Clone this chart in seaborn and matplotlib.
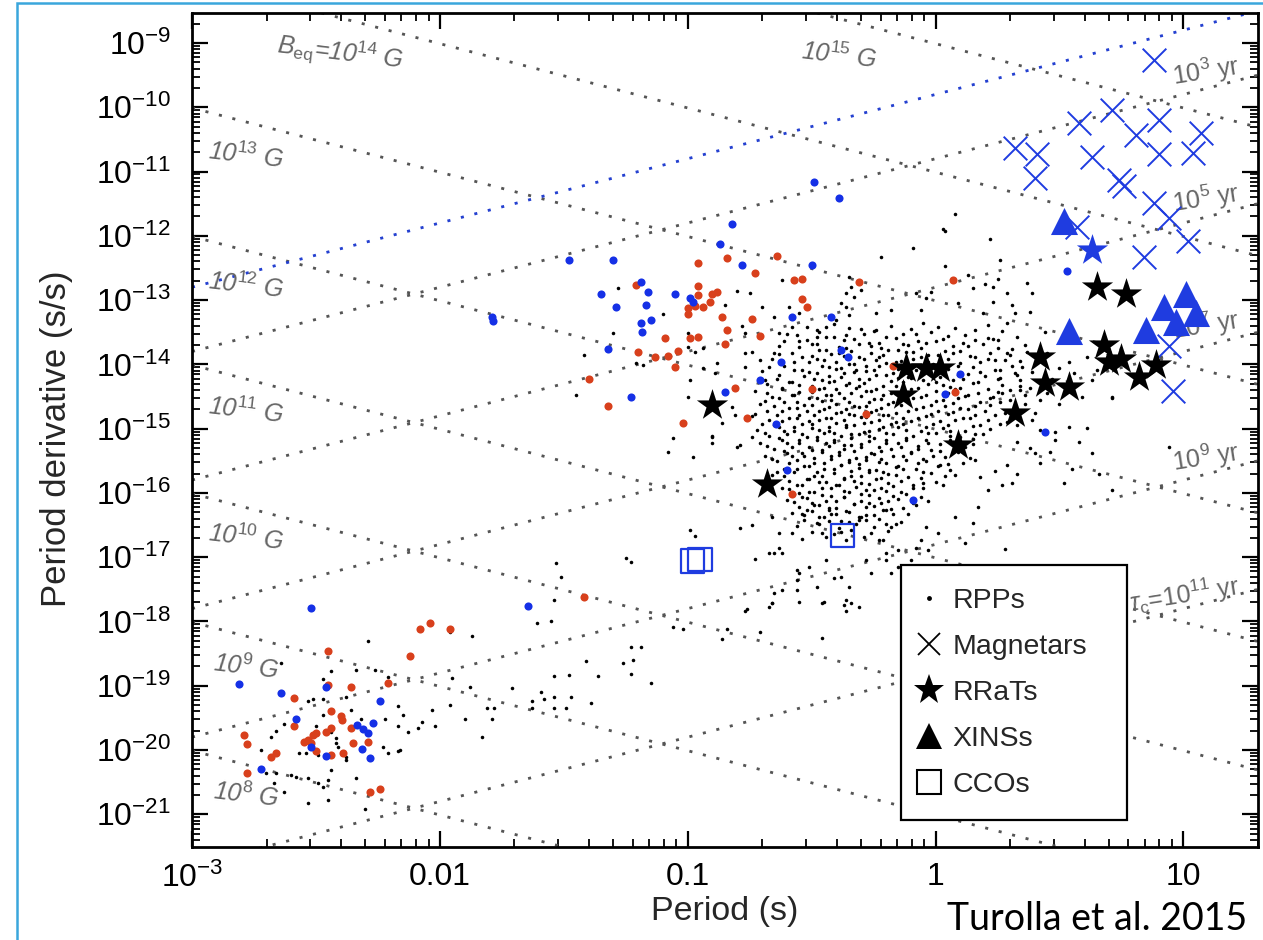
import numpy as np
import pandas as pd
import matplotlib
matplotlib.use("Agg")
import matplotlib.pyplot as plt
import seaborn as sns
from matplotlib.lines import Line2D
from matplotlib.patches import Rectangle
from matplotlib.ticker import FixedLocator, FixedFormatter, LogLocator, NullFormatter, LogFormatterMathtext

# ---------------- data (log10 P [s], log10 Pdot [s/s]) ----------------
magnetars = [(0.88, -9.26), (0.58, -10.25), (0.71, -10.04), (0.90, -10.20), (0.81, -10.43),
             (1.07, -10.40), (0.32, -10.63), (0.41, -10.73), (0.63, -10.77), (0.90, -10.73),
             (1.04, -10.71), (0.40, -11.10), (0.74, -11.13), (0.76, -11.23), (0.88, -11.49),
             (0.94, -11.72), (0.57, -11.86), (1.02, -12.08), (0.84, -12.33), (0.94, -13.72),
             (0.96, -14.42)]
xins = [(0.52, -11.77), (0.54, -13.48), (0.85, -13.47), (0.92, -13.11), (1.01, -12.91),
        (1.05, -13.20), (0.97, -13.34)]
rrats = [(-0.90, -14.63), (-0.68, -15.86), (-0.12, -14.06), (-0.04, -14.06), (0.02, -14.06),
         (-0.13, -14.48), (0.09, -15.26), (0.32, -14.76), (0.42, -13.89), (0.44, -14.29),
         (0.54, -14.35), (0.65, -12.80), (0.77, -12.91), (0.68, -13.70), (0.70, -13.96),
         (0.75, -13.92), (0.82, -14.20), (0.89, -14.01)]
rrat_highb = [(0.63, -12.22)]
ccos = [(-0.98, -17.06), (-0.95, -17.03), (-0.375, -16.66)]

red_psr = [(-0.64, -12.32), (-0.84, -12.35), (-0.96, -12.42), (-0.73, -12.58), (-0.57, -12.69),
           (-0.54, -12.67), (-1.21, -12.77), (-0.96, -12.78), (-0.96, -12.92), (-0.90, -12.91),
           (-0.88, -12.88), (-0.91, -13.03), (-1.00, -13.12), (-0.97, -13.09), (-0.94, -13.11),
           (-1.00, -13.22), (-0.86, -13.26), (-0.74, -13.30), (-0.54, -12.98), (-0.52, -13.11),
           (-0.84, -13.47), (-0.71, -13.56), (-1.09, -13.59), (-0.99, -13.59), (-0.96, -13.58),
           (-0.85, -13.68), (-1.04, -13.79), (-1.20, -13.81), (-1.13, -13.89), (-1.08, -13.87),
           (-1.05, -14.04), (-1.40, -14.23), (-0.81, -14.37), (-0.50, -14.39), (-1.32, -14.65),
           (-1.02, -14.91), (-0.76, -14.84), (-0.31, -12.72), (0.07, -12.69), (-0.17, -14.03),
           (0.08, -14.43), (-0.28, -14.77), (-0.58, -16.02), (-1.42, -17.62),
           (-2.45, -18.46), (-2.59, -19.19), (-2.45, -18.99), (-2.36, -19.02), (-2.21, -18.95),
           (-2.12, -18.53), (-2.08, -18.11), (-2.04, -18.03), (-1.96, -18.11), (-2.79, -19.77),
           (-2.78, -19.91), (-2.78, -20.35), (-2.68, -20.11), (-2.66, -20.05), (-2.59, -19.63),
           (-2.55, -19.88), (-2.53, -19.85), (-2.51, -19.77), (-2.50, -19.74), (-2.52, -19.89),
           (-2.50, -20.02), (-2.46, -19.72), (-2.44, -19.66), (-2.44, -19.40), (-2.40, -19.47),
           (-2.395, -19.54), (-2.36, -19.66), (-2.35, -19.89), (-2.39, -20.05), (-2.44, -20.07),
           (-2.29, -19.88), (-2.28, -20.66), (-2.24, -20.61)]
blue_psr = [(-0.49, -11.16), (-0.39, -11.41), (-0.82, -11.82), (-0.87, -12.13), (-1.48, -12.38),
            (-1.30, -12.38), (-0.78, -12.46), (-0.50, -12.46), (-1.19, -12.72), (-1.35, -12.91),
            (-1.16, -12.88), (-1.05, -12.91), (-0.99, -12.97), (-0.98, -13.03), (-1.29, -13.11),
            (-1.17, -13.08), (-1.15, -13.31), (-1.19, -13.36), (-1.185, -13.50), (-0.58, -13.26),
            (-0.42, -13.26), (-1.32, -13.76), (-0.38, -13.78), (-0.355, -13.89), (-0.625, -13.96),
            (-0.71, -14.25), (-0.85, -14.43), (-1.23, -14.51), (-0.645, -14.93), (-1.79, -13.26),
            (-1.785, -13.33), (0.10, -14.15), (0.04, -14.46), (0.44, -15.05), (-0.09, -16.11),
            (-0.60, -15.65), (0.53, -12.55), (-1.645, -17.76),
            (-2.52, -17.79), (-2.81, -18.98), (-2.64, -19.12), (-2.46, -19.02), (-2.58, -19.51),
            (-2.24, -19.24), (-2.335, -19.61), (-2.31, -19.68), (-2.29, -19.74), (-2.27, -19.58),
            (-2.52, -19.96), (-2.46, -20.10), (-2.315, -19.99), (-2.28, -20.13), (-2.72, -20.30)]

rpp_msp = [(-2.64, -18.65), (-2.44, -18.77), (-2.47, -18.90), (-2.29, -18.31), (-2.51, -19.21),
           (-2.22, -19.51), (-2.17, -19.63), (-2.13, -19.72), (-2.63, -19.60), (-2.66, -19.71),
           (-2.68, -19.80), (-2.57, -20.05), (-2.54, -20.05), (-2.49, -20.08), (-2.42, -19.89),
           (-2.41, -19.96), (-2.38, -20.11), (-2.38, -20.16), (-2.23, -19.96), (-2.17, -20.02),
           (-2.72, -20.00), (-2.70, -20.36), (-2.66, -20.35), (-2.60, -20.39), (-2.58, -20.42),
           (-2.53, -20.44), (-2.49, -20.52), (-2.47, -20.58), (-2.45, -20.47), (-2.44, -20.31),
           (-2.67, -20.52), (-2.63, -20.66), (-2.53, -20.83), (-2.45, -20.78), (-2.34, -20.44),
           (-2.30, -20.91), (-2.21, -20.05), (-2.50, -19.62), (-2.47, -19.46), (-2.44, -19.72),
           (-2.42, -19.81), (-2.32, -19.51), (-2.36, -19.38), (-2.53, -19.23), (-2.47, -19.20),
           (-2.38, -19.18), (-2.34, -18.76), (-2.26, -18.76), (-2.21, -18.87), (-2.17, -19.32),
           (-2.15, -19.46)]
rpp_bridge = [(-2.03, -19.38), (-2.02, -19.62), (-2.07, -19.57), (-2.09, -19.66), (-2.16, -20.00),
              (-1.96, -19.30), (-1.90, -19.51), (-1.83, -19.80), (-1.79, -19.51), (-1.81, -19.35),
              (-1.78, -19.35), (-1.71, -19.04), (-1.95, -18.88), (-1.88, -19.02), (-1.87, -18.23),
              (-1.96, -18.17), (-1.63, -19.23), (-1.63, -19.35), (-1.59, -19.10), (-1.58, -19.20),
              (-1.54, -19.18), (-1.54, -19.34), (-1.49, -19.34), (-1.47, -19.18), (-1.39, -19.27),
              (-1.54, -18.85), (-1.48, -18.84), (-1.61, -18.03), (-1.55, -18.00), (-1.41, -18.62),
              (-1.36, -18.85), (-1.26, -18.64), (-1.23, -18.81), (-1.22, -18.60), (-1.23, -18.40),
              (-1.19, -18.40), (-1.15, -18.95), (-0.76, -17.81), (-0.66, -17.72), (-0.71, -18.17),
              (-0.46, -18.26), (-1.06, -18.09), (-1.02, -18.11), (-0.86, -18.28), (-0.84, -18.11),
              (-0.99, -16.58), (-0.97, -16.67), (-1.25, -17.02), (-1.23, -17.08), (-1.53, -17.09),
              (-1.51, -17.31), (-1.54, -17.67), (-1.45, -14.48), (-1.06, -15.15), (-1.08, -15.37),
              (-0.98, -15.44), (-0.90, -15.12), (-0.90, -15.23), (-0.80, -15.29), (-0.79, -16.55),
              (-0.74, -16.50), (-0.73, -17.03), (-0.65, -16.94), (-0.63, -16.86), (-0.56, -17.20),
              (-0.56, -17.36), (-0.56, -17.51), (-0.77, -17.83), (-0.67, -17.78), (-0.65, -17.55),
              (-0.45, -17.70), (-0.37, -17.75), (-0.41, -17.33), (-1.00, -14.51), (-0.89, -14.14),
              (-0.88, -13.98)]
rpp_upper = [(-1.28, -12.81), (-1.30, -13.51), (-1.42, -13.86), (-1.21, -13.98), (-1.18, -14.01),
             (-1.10, -13.22), (-1.07, -13.87), (-1.00, -13.51), (-1.00, -13.73), (-0.97, -13.81),
             (-0.94, -13.75), (-0.94, -14.06), (-0.99, -14.25), (-0.85, -13.08), (-0.80, -12.86),
             (-0.78, -13.40), (-0.75, -12.89), (-0.70, -13.11), (-0.65, -13.26), (-0.62, -12.69),
             (-0.59, -13.11), (-0.55, -13.20), (-0.77, -13.51), (-0.77, -13.83), (-0.74, -13.81),
             (-0.77, -14.04), (-0.71, -13.93), (-0.65, -13.82), (-0.63, -13.51), (-0.58, -13.42),
             (-0.52, -13.62), (-0.48, -13.58), (-0.44, -13.42), (-0.40, -13.31), (-0.38, -13.05),
             (-0.36, -12.89), (-0.35, -12.64), (-0.34, -12.80), (-0.36, -13.11), (-0.82, -14.67),
             (-0.81, -14.79), (-0.86, -14.91), (-0.90, -15.13), (-0.79, -15.26), (-0.74, -15.13)]
rpp_right = [(0.08, -11.66), (0.03, -11.89), (0.04, -11.93), (0.22, -12.05), (-0.09, -12.19),
             (-0.22, -12.33), (0.26, -12.38), (0.04, -12.47), (0.13, -12.61), (0.25, -12.67),
             (0.20, -12.75), (0.37, -12.74), (0.39, -12.89), (0.29, -12.89), (0.15, -12.81),
             (-0.33, -12.95), (-0.30, -12.84), (-0.08, -12.89), (-0.02, -12.88), (-0.04, -12.97),
             (0.09, -13.05), (0.23, -13.03), (0.31, -13.08), (0.38, -13.19), (0.19, -13.20),
             (-0.06, -13.16), (-0.18, -13.16), (-0.24, -13.20), (-0.35, -13.23), (0.23, -12.80),
             (0.32, -13.20), (0.44, -13.50), (0.29, -13.36), (0.25, -13.62), (0.29, -13.83),
             (0.24, -13.93), (0.35, -14.04), (0.32, -14.14), (0.26, -14.21), (0.27, -14.45),
             (0.34, -14.40), (0.38, -14.37), (0.23, -14.51), (0.54, -13.96), (0.56, -14.14),
             (0.61, -13.89), (0.65, -14.09), (0.63, -14.25), (0.71, -14.51), (0.54, -14.98),
             (0.40, -14.76), (0.39, -14.87), (0.33, -14.95), (0.42, -15.02), (0.48, -15.05),
             (0.27, -15.88), (0.31, -15.85), (0.29, -15.57), (0.42, -15.54), (0.40, -15.38),
             (0.52, -15.85), (0.63, -15.38), (0.71, -15.96), (0.94, -15.29), (0.59, -14.51),
             (0.71, -14.53), (0.61, -14.99), (0.48, -15.18), (0.17, -16.22), (0.15, -16.47),
             (0.08, -16.38), (0.12, -16.78), (0.01, -16.63), (-0.06, -16.74), (-0.03, -16.89),
             (-0.15, -17.16), (-0.26, -17.25), (-0.20, -16.94), (-0.34, -17.72), (-0.36, -17.83),
             (-0.10, -17.05), (-0.08, -16.86), (-0.04, -16.53), (0.28, -16.88),
             (0.36, -13.70), (0.45, -13.82), (0.50, -14.05), (0.47, -14.22), (0.42, -14.55),
             (0.50, -14.62), (0.36, -14.62), (0.45, -14.45), (0.33, -15.20), (0.38, -15.30),
             (0.46, -15.36), (0.24, -15.66), (0.21, -15.95), (0.18, -15.75), (0.33, -15.71),
             (0.55, -15.62), (0.66, -15.70), (0.58, -15.20)]
rpp_lower = [(-0.66, -16.38), (-0.63, -16.63), (-0.67, -16.94), (-0.62, -16.94), (-0.55, -17.25),
             (-0.51, -17.16), (-0.44, -17.05), (-0.48, -17.47), (-0.38, -17.31), (-0.35, -17.47),
             (-0.28, -17.05), (-0.20, -17.05), (-0.18, -17.25), (-0.23, -16.74), (-0.15, -16.89),
             (-0.18, -16.53), (-0.31, -16.42), (-0.43, -16.27), (-0.50, -16.16), (-0.55, -16.00),
             (-0.54, -16.32), (-0.58, -16.63), (-0.62, -17.51), (-0.55, -17.70), (-0.46, -17.72),
             (-0.36, -17.67), (-0.31, -17.78), (-0.66, -17.72), (-0.38, -16.61), (-0.46, -16.63)]
rpp_core = [
    (-0.52, -13.42), (-0.41, -13.37), (-0.30, -13.45), (-0.18, -13.40), (-0.05, -13.36), (0.08, -13.44), (0.21, -13.39),
    (-0.60, -13.52), (-0.47, -13.49), (-0.36, -13.55), (-0.24, -13.47), (-0.13, -13.53), (-0.02, -13.50), (0.12, -13.54), (0.27, -13.48),
    (-0.55, -13.63), (-0.44, -13.58), (-0.33, -13.61), (-0.27, -13.66), (-0.16, -13.59), (-0.07, -13.64), (0.03, -13.60), (0.16, -13.62), (0.33, -13.57),
    (-0.63, -13.71), (-0.50, -13.68), (-0.39, -13.73), (-0.31, -13.69), (-0.22, -13.74), (-0.11, -13.70), (-0.04, -13.67), (0.07, -13.72), (0.19, -13.69), (0.25, -13.75),
    (-0.58, -13.82), (-0.47, -13.78), (-0.42, -13.84), (-0.34, -13.79), (-0.26, -13.83), (-0.19, -13.77), (-0.09, -13.81), (0.01, -13.85), (0.10, -13.79), (0.22, -13.83), (0.37, -13.80),
    (-0.66, -13.91), (-0.54, -13.88), (-0.45, -13.93), (-0.37, -13.87), (-0.29, -13.92), (-0.23, -13.88), (-0.14, -13.94), (-0.06, -13.89), (0.05, -13.92), (0.14, -13.87), (0.28, -13.93),
    (-0.61, -14.02), (-0.51, -13.97), (-0.43, -14.04), (-0.35, -13.99), (-0.28, -14.03), (-0.20, -13.98), (-0.12, -14.05), (-0.01, -14.00), (0.09, -14.03), (0.18, -13.97), (0.31, -14.02),
    (-0.70, -14.11), (-0.57, -14.08), (-0.48, -14.13), (-0.40, -14.07), (-0.33, -14.12), (-0.25, -14.09), (-0.17, -14.14), (-0.08, -14.08), (0.04, -14.11), (0.13, -14.15), (0.24, -14.08), (0.39, -14.12),
    (-0.64, -14.22), (-0.53, -14.18), (-0.46, -14.24), (-0.38, -14.19), (-0.31, -14.23), (-0.24, -14.17), (-0.15, -14.21), (-0.05, -14.25), (0.02, -14.19), (0.11, -14.22), (0.20, -14.18), (0.34, -14.24),
    (-0.68, -14.31), (-0.59, -14.28), (-0.50, -14.33), (-0.43, -14.27), (-0.36, -14.32), (-0.29, -14.29), (-0.21, -14.34), (-0.13, -14.28), (-0.03, -14.31), (0.06, -14.35), (0.15, -14.29), (0.27, -14.32),
    (-0.73, -14.42), (-0.62, -14.38), (-0.55, -14.43), (-0.47, -14.39), (-0.39, -14.44), (-0.32, -14.37), (-0.26, -14.41), (-0.18, -14.45), (-0.10, -14.38), (0.00, -14.42), (0.08, -14.39), (0.17, -14.44), (0.30, -14.40),
    (-0.66, -14.51), (-0.58, -14.48), (-0.51, -14.53), (-0.44, -14.47), (-0.37, -14.52), (-0.30, -14.49), (-0.22, -14.54), (-0.14, -14.48), (-0.06, -14.51), (0.03, -14.55), (0.12, -14.49), (0.22, -14.52), (0.36, -14.47),
    (-0.71, -14.62), (-0.61, -14.58), (-0.53, -14.63), (-0.46, -14.57), (-0.40, -14.61), (-0.33, -14.64), (-0.27, -14.59), (-0.19, -14.62), (-0.11, -14.57), (-0.02, -14.63), (0.07, -14.60), (0.16, -14.65), (0.26, -14.58),
    (-0.68, -14.72), (-0.59, -14.68), (-0.52, -14.73), (-0.45, -14.69), (-0.38, -14.74), (-0.31, -14.67), (-0.24, -14.71), (-0.16, -14.75), (-0.08, -14.69), (0.01, -14.72), (0.10, -14.68), (0.20, -14.73), (0.33, -14.70),
    (-0.74, -14.81), (-0.64, -14.78), (-0.56, -14.83), (-0.49, -14.79), (-0.42, -14.84), (-0.35, -14.77), (-0.28, -14.82), (-0.21, -14.78), (-0.13, -14.83), (-0.04, -14.80), (0.05, -14.77), (0.14, -14.83), (0.24, -14.79),
    (-0.70, -14.92), (-0.62, -14.88), (-0.54, -14.93), (-0.47, -14.87), (-0.40, -14.91), (-0.33, -14.95), (-0.26, -14.89), (-0.18, -14.93), (-0.10, -14.88), (-0.01, -14.92), (0.08, -14.87), (0.18, -14.94), (0.29, -14.90),
    (-0.72, -15.02), (-0.63, -14.97), (-0.57, -15.04), (-0.50, -14.99), (-0.43, -15.03), (-0.36, -14.98), (-0.29, -15.05), (-0.23, -15.00), (-0.15, -14.97), (-0.06, -15.03), (0.03, -14.99), (0.12, -15.04), (0.22, -15.00),
    (-0.67, -15.11), (-0.60, -15.08), (-0.52, -15.13), (-0.45, -15.07), (-0.38, -15.12), (-0.31, -15.09), (-0.25, -15.14), (-0.17, -15.08), (-0.09, -15.12), (0.00, -15.07), (0.10, -15.13), (0.19, -15.09),
    (-0.71, -15.22), (-0.62, -15.18), (-0.55, -15.23), (-0.48, -15.17), (-0.41, -15.21), (-0.34, -15.25), (-0.27, -15.19), (-0.20, -15.23), (-0.12, -15.18), (-0.03, -15.22), (0.06, -15.17), (0.15, -15.24),
    (-0.65, -15.31), (-0.58, -15.28), (-0.50, -15.33), (-0.43, -15.27), (-0.37, -15.32), (-0.30, -15.29), (-0.22, -15.34), (-0.14, -15.28), (-0.07, -15.31), (0.02, -15.35), (0.12, -15.29),
    (-0.69, -15.42), (-0.60, -15.38), (-0.53, -15.43), (-0.46, -15.37), (-0.39, -15.41), (-0.32, -15.45), (-0.25, -15.39), (-0.17, -15.43), (-0.10, -15.38), (-0.01, -15.42), (0.09, -15.37),
    (-0.64, -15.51), (-0.56, -15.48), (-0.49, -15.53), (-0.42, -15.47), (-0.35, -15.52), (-0.28, -15.49), (-0.20, -15.54), (-0.12, -15.48), (-0.04, -15.51), (0.05, -15.55), (0.16, -15.49),
    (-0.61, -15.62), (-0.53, -15.58), (-0.45, -15.63), (-0.38, -15.57), (-0.31, -15.61), (-0.24, -15.65), (-0.16, -15.59), (-0.08, -15.63), (0.01, -15.58),
    (-0.66, -15.72), (-0.57, -15.68), (-0.49, -15.73), (-0.41, -15.69), (-0.34, -15.74), (-0.27, -15.67), (-0.19, -15.71), (-0.11, -15.75), (-0.02, -15.69), (0.08, -15.72),
    (-0.59, -15.82), (-0.51, -15.78), (-0.44, -15.83), (-0.37, -15.79), (-0.30, -15.84), (-0.22, -15.77), (-0.14, -15.81), (-0.05, -15.85),
    (-0.62, -15.92), (-0.54, -15.88), (-0.46, -15.93), (-0.39, -15.87), (-0.32, -15.91), (-0.25, -15.95), (-0.17, -15.89), (-0.09, -15.93), (0.03, -15.88),
    (-0.57, -16.02), (-0.49, -15.98), (-0.42, -16.04), (-0.35, -15.99), (-0.27, -16.03), (-0.20, -15.97), (-0.12, -16.01),
    (-0.60, -16.11), (-0.52, -16.08), (-0.44, -16.13), (-0.37, -16.07), (-0.30, -16.12), (-0.22, -16.15), (-0.15, -16.09), (-0.03, -16.12),
    (-0.55, -16.22), (-0.47, -16.18), (-0.40, -16.23), (-0.33, -16.17), (-0.25, -16.21), (-0.18, -16.25), (-0.08, -16.19),
    (-0.58, -16.31), (-0.50, -16.28), (-0.42, -16.33), (-0.35, -16.29), (-0.28, -16.34), (-0.20, -16.27), (-0.11, -16.32),
    (-0.53, -16.42), (-0.45, -16.38), (-0.38, -16.43), (-0.30, -16.37), (-0.23, -16.41), (-0.14, -16.45),
    (-0.56, -16.52), (-0.47, -16.48), (-0.39, -16.54), (-0.32, -16.49), (-0.25, -16.53), (-0.16, -16.48),
    (-0.50, -16.61), (-0.41, -16.64), (-0.34, -16.58), (-0.26, -16.63), (-0.19, -16.59),
    (-0.54, -16.72), (-0.44, -16.68), (-0.36, -16.74), (-0.29, -16.69), (-0.21, -16.73)]
rpp_core_dense = [
    (-0.48, -13.47), (-0.35, -13.43), (-0.25, -13.48), (-0.10, -13.45), (0.01, -13.42), (0.16, -13.46),
    (-0.56, -13.54), (-0.41, -13.58), (-0.29, -13.53), (-0.20, -13.57), (-0.08, -13.52), (0.05, -13.56), (0.21, -13.59),
    (-0.61, -13.64), (-0.48, -13.68), (-0.37, -13.62), (-0.23, -13.66), (-0.13, -13.69), (0.00, -13.63), (0.11, -13.66), (0.23, -13.61),
    (-0.55, -13.73), (-0.44, -13.78), (-0.36, -13.74), (-0.26, -13.71), (-0.15, -13.77), (-0.06, -13.74), (0.04, -13.79), (0.13, -13.72), (0.31, -13.76),
    (-0.63, -13.84), (-0.50, -13.87), (-0.39, -13.82), (-0.31, -13.88), (-0.21, -13.85), (-0.12, -13.81), (-0.03, -13.86), (0.07, -13.83), (0.16, -13.89), (0.30, -13.85),
    (-0.57, -13.97), (-0.48, -13.92), (-0.40, -13.96), (-0.33, -13.99), (-0.24, -13.93), (-0.16, -13.97), (-0.09, -13.91), (-0.03, -13.96), (0.10, -13.98), (0.21, -13.92), (0.34, -13.95),
    (-0.67, -14.04), (-0.54, -14.08), (-0.46, -14.02), (-0.38, -14.06), (-0.32, -14.09), (-0.23, -14.03), (-0.15, -14.07), (-0.06, -14.01), (0.05, -14.07), (0.15, -14.04), (0.26, -14.09),
    (-0.63, -14.17), (-0.51, -14.12), (-0.43, -14.18), (-0.37, -14.14), (-0.28, -14.11), (-0.20, -14.16), (-0.11, -14.19), (-0.02, -14.13), (0.09, -14.17), (0.18, -14.12), (0.33, -14.16),
    (-0.69, -14.24), (-0.58, -14.27), (-0.49, -14.22), (-0.41, -14.26), (-0.35, -14.29), (-0.27, -14.23), (-0.18, -14.26), (-0.10, -14.21), (0.00, -14.27), (0.07, -14.24), (0.17, -14.28), (0.25, -14.22),
    (-0.62, -14.37), (-0.55, -14.32), (-0.45, -14.36), (-0.40, -14.39), (-0.31, -14.34), (-0.24, -14.38), (-0.16, -14.33), (-0.07, -14.37), (0.03, -14.32), (0.10, -14.36), (0.21, -14.39), (0.34, -14.33),
    (-0.68, -14.44), (-0.57, -14.48), (-0.50, -14.43), (-0.42, -14.47), (-0.34, -14.45), (-0.28, -14.42), (-0.21, -14.48), (-0.13, -14.43), (-0.04, -14.47), (0.05, -14.44), (0.13, -14.48), (0.25, -14.43),
    (-0.69, -14.57), (-0.63, -14.53), (-0.56, -14.58), (-0.48, -14.52), (-0.42, -14.56), (-0.35, -14.59), (-0.25, -14.54), (-0.17, -14.58), (-0.09, -14.53), (0.00, -14.57), (0.09, -14.53), (0.18, -14.58), (0.30, -14.55),
    (-0.65, -14.64), (-0.56, -14.68), (-0.50, -14.63), (-0.43, -14.67), (-0.36, -14.69), (-0.28, -14.64), (-0.22, -14.68), (-0.14, -14.63), (-0.05, -14.67), (0.04, -14.64), (0.13, -14.69), (0.22, -14.63),
    (-0.73, -14.77), (-0.62, -14.73), (-0.55, -14.78), (-0.47, -14.72), (-0.40, -14.76), (-0.33, -14.79), (-0.26, -14.74), (-0.19, -14.78), (-0.11, -14.73), (-0.02, -14.77), (0.07, -14.74), (0.16, -14.78), (0.28, -14.75),
    (-0.67, -14.87), (-0.59, -14.83), (-0.51, -14.88), (-0.44, -14.84), (-0.37, -14.87), (-0.30, -14.82), (-0.23, -14.86), (-0.16, -14.89), (-0.07, -14.84), (0.02, -14.88), (0.11, -14.83), (0.21, -14.87),
    (-0.65, -14.94), (-0.57, -14.98), (-0.50, -14.93), (-0.43, -14.97), (-0.36, -14.95), (-0.29, -14.91), (-0.21, -14.97), (-0.13, -14.93), (-0.04, -14.98), (0.05, -14.94), (0.15, -14.96), (0.26, -14.92),
    (-0.69, -15.07), (-0.61, -15.03), (-0.54, -15.08), (-0.47, -15.02), (-0.41, -15.06), (-0.34, -15.09), (-0.27, -15.04), (-0.20, -15.07), (-0.12, -15.02), (-0.03, -15.06), (0.06, -15.03), (0.16, -15.08),
    (-0.63, -15.14), (-0.55, -15.18), (-0.48, -15.13), (-0.41, -15.17), (-0.34, -15.15), (-0.27, -15.12), (-0.20, -15.18), (-0.12, -15.14), (-0.04, -15.17), (0.06, -15.12), (0.15, -15.16),
    (-0.68, -15.27), (-0.60, -15.23), (-0.51, -15.28), (-0.44, -15.22), (-0.37, -15.26), (-0.30, -15.24), (-0.23, -15.28), (-0.15, -15.22), (-0.07, -15.27), (0.02, -15.24), (0.11, -15.28),
    (-0.61, -15.34), (-0.54, -15.38), (-0.46, -15.33), (-0.39, -15.37), (-0.33, -15.34), (-0.26, -15.38), (-0.18, -15.32), (-0.10, -15.36), (-0.02, -15.33), (0.07, -15.37),
    (-0.66, -15.47), (-0.58, -15.43), (-0.49, -15.46), (-0.42, -15.42), (-0.35, -15.48), (-0.28, -15.44), (-0.22, -15.47), (-0.13, -15.42), (-0.05, -15.47), (0.04, -15.44), (0.14, -15.46),
    (-0.59, -15.54), (-0.51, -15.58), (-0.45, -15.53), (-0.38, -15.57), (-0.31, -15.55), (-0.23, -15.52), (-0.15, -15.58), (-0.07, -15.53), (0.02, -15.57), (0.11, -15.54),
    (-0.64, -15.67), (-0.56, -15.63), (-0.48, -15.68), (-0.41, -15.62), (-0.34, -15.66), (-0.27, -15.64), (-0.21, -15.68), (-0.13, -15.62), (-0.05, -15.67), (0.06, -15.64),
    (-0.61, -15.74), (-0.52, -15.78), (-0.46, -15.73), (-0.37, -15.77), (-0.30, -15.74), (-0.24, -15.78), (-0.16, -15.72), (-0.06, -15.77), (0.04, -15.74),
    (-0.56, -15.87), (-0.47, -15.83), (-0.40, -15.88), (-0.33, -15.82), (-0.27, -15.86), (-0.19, -15.84), (-0.09, -15.88), (0.00, -15.83),
    (-0.59, -15.94), (-0.51, -15.98), (-0.42, -15.93), (-0.37, -15.97), (-0.28, -15.95), (-0.22, -15.92), (-0.14, -15.98), (-0.05, -15.93),
    (-0.54, -16.07), (-0.46, -16.03), (-0.37, -16.06), (-0.30, -16.02), (-0.23, -16.08), (-0.17, -16.04), (-0.06, -16.07),
    (-0.57, -16.14), (-0.49, -16.18), (-0.40, -16.13), (-0.33, -16.17), (-0.27, -16.15), (-0.19, -16.12), (-0.09, -16.16),
    (-0.52, -16.27), (-0.43, -16.23), (-0.36, -16.28), (-0.28, -16.22), (-0.21, -16.26), (-0.13, -16.24),
    (-0.53, -16.34), (-0.47, -16.38), (-0.40, -16.33), (-0.31, -16.37), (-0.25, -16.35), (-0.17, -16.32),
    (-0.48, -16.47), (-0.43, -16.43), (-0.35, -16.46), (-0.28, -16.42), (-0.20, -16.48)]

# reference lines
B_fields = [1e8, 1e9, 1e10, 1e11, 1e12, 1e13, 1e14, 1e15]       # G
ages_yr = [1e3, 1e5, 1e7, 1e9, 1e11]                              # yr
blue_age_yr = 1e2
P_range = [1e-3, 20.0]

B_labels = [(1.65e-3, 2.0e-21, "10$^{8}$ G"), (1.65e-3, 1.95e-19, "10$^{9}$ G"),
            (1.65e-3, 2.0e-17, "10$^{10}$ G"), (1.65e-3, 1.95e-15, "10$^{11}$ G"),
            (1.65e-3, 1.7e-13, "10$^{12}$ G"), (1.65e-3, 1.81e-11, "10$^{13}$ G"),
            (3.95e-3, 7.0e-10, "B$_{\\rm eq}$=10$^{14}$ G"), (0.406, 6.5e-10, "10$^{15}$ G")]
age_labels = [(12.3, 3.67e-10, "10$^{3}$ yr"), (12.3, 3.9e-12, "10$^{5}$ yr"),
              (12.3, 4.1e-14, "10$^{7}$ yr"), (12.3, 3.6e-16, "10$^{9}$ yr"),
              (10.1, 2.57e-18, "$\\tau_{\\rm c}$=10$^{11}$ yr")]
x_ticks = [1e-3, 1e-2, 1e-1, 1, 10]
x_ticklabels = ["$10^{-3}$", "0.01", "0.1", "1", "10"]

# ---------------- style ----------------
sns.set_theme(style="ticks")
plt.rcParams["font.family"] = ["Liberation Sans", "DejaVu Sans"]
plt.rcParams["mathtext.fontset"] = "custom"
plt.rcParams["mathtext.rm"] = "Liberation Sans"
plt.rcParams["mathtext.it"] = "Liberation Sans:italic"
plt.rcParams["mathtext.bf"] = "Liberation Sans:bold"
plt.rcParams["mathtext.sf"] = "Liberation Sans"

BLUE = "#1f3ce0"
DOTBLUE = "#1530e6"
RED = "#d8401c"
GRAY = "#666666"


def to_df(pairs):
    a = np.array(pairs, dtype=float)
    return pd.DataFrame({"P": 10 ** a[:, 0], "Pdot": 10 ** a[:, 1]})


fig = plt.figure(figsize=(12.63, 9.40), dpi=100)
ax = fig.add_axes([192 / 1263, 1 - 847 / 940, (1258 - 192) / 1263, (847 - 13) / 940])
ax.set_xscale("log")
ax.set_yscale("log")

# lines
P_arr = np.array(P_range)
for B in B_fields:
    sns.lineplot(x=P_arr, y=(B / 3.2e19) ** 2 / P_arr, ax=ax, color="#555555", lw=2.0,
                 linestyle=(0, (1.1, 3.9)), zorder=1, legend=False)
for t in ages_yr:
    sns.lineplot(x=P_arr, y=P_arr / (2 * t * 3.156e7), ax=ax, color="#555555", lw=2.0,
                 linestyle=(0, (1.1, 3.9)), zorder=1, legend=False)
sns.lineplot(x=P_arr, y=P_arr / (2 * blue_age_yr * 3.156e7), ax=ax, color="#2440d0", lw=2.0,
             linestyle=(0, (1.1, 3.9)), zorder=1, legend=False)

for (px, py, s) in B_labels:
    ax.text(px, py, s, color=GRAY, fontsize=18, rotation=-7, style="italic",
            ha="center", va="center", zorder=1.5)
for (px, py, s) in age_labels:
    ax.text(px, py, s, color=GRAY, fontsize=18, rotation=9,
            ha="center", va="center", zorder=1.5)

# RPP black dots
rpp = pd.concat([to_df(rpp_core), to_df(rpp_core_dense), to_df(rpp_upper), to_df(rpp_right),
                 to_df(rpp_lower), to_df(rpp_bridge), to_df(rpp_msp)], ignore_index=True)
sns.scatterplot(data=rpp, x="P", y="Pdot", ax=ax, color="black", s=6.5, linewidth=0,
                zorder=2, legend=False)
sns.scatterplot(data=to_df(red_psr), x="P", y="Pdot", ax=ax, color=RED, s=34, linewidth=0,
                zorder=3, legend=False)
sns.scatterplot(data=to_df(blue_psr), x="P", y="Pdot", ax=ax, color=DOTBLUE, s=34, linewidth=0,
                zorder=3, legend=False)
sns.scatterplot(data=to_df(ccos), x="P", y="Pdot", ax=ax, marker="s", s=280,
                facecolor="none", edgecolor=BLUE, linewidth=1.6, zorder=3, legend=False)
sns.scatterplot(data=to_df(magnetars), x="P", y="Pdot", ax=ax, marker="x", s=290,
                color=BLUE, linewidth=1.4, zorder=4, legend=False)
sns.scatterplot(data=to_df(xins), x="P", y="Pdot", ax=ax, marker="^", s=380,
                color=BLUE, linewidth=0, zorder=4, legend=False)
sns.scatterplot(data=to_df(rrats), x="P", y="Pdot", ax=ax, marker="*", s=560,
                color="black", linewidth=0, zorder=5, legend=False)
sns.scatterplot(data=to_df(rrat_highb), x="P", y="Pdot", ax=ax, marker="*", s=560,
                color=BLUE, linewidth=0, zorder=5, legend=False)

# axes
ax.set_xlim(1e-3, 20)
ax.set_ylim(3.1e-22, 2.93e-9)
ax.xaxis.set_major_locator(FixedLocator(x_ticks))
ax.xaxis.set_major_formatter(FixedFormatter(x_ticklabels))
ax.xaxis.set_minor_locator(LogLocator(base=10, subs=np.arange(2, 10), numticks=100))
ax.xaxis.set_minor_formatter(NullFormatter())
ax.yaxis.set_major_locator(FixedLocator(10.0 ** np.arange(-21, -8)))
ax.yaxis.set_major_formatter(LogFormatterMathtext())
ax.yaxis.set_minor_locator(LogLocator(base=10, subs=np.arange(2, 10), numticks=200))
ax.yaxis.set_minor_formatter(NullFormatter())
ax.tick_params(which="both", direction="in", top=True, right=True, colors="black")
ax.tick_params(which="major", length=11.5, width=1.6, labelsize=23)
ax.tick_params(which="minor", length=5.5, width=1.3)
ax.tick_params(axis="x", which="major", pad=11)
ax.tick_params(axis="y", which="major", pad=15)
for sp in ax.spines.values():
    sp.set_linewidth(2.0)
    sp.set_color("black")

ax.set_xlabel("Period (s)", fontsize=24.5)
ax.set_ylabel("Period derivative (s/s)", fontsize=25)
ax.xaxis.set_label_coords(0.5, -0.059)
ax.yaxis.set_label_coords(-0.1116, 0.49)

# legend
handles = [
    Line2D([], [], ls="none", marker="o", ms=3.5, color="black", mew=0),
    Line2D([], [], ls="none", marker="x", ms=16, color="black", mew=1.3),
    Line2D([], [], ls="none", marker="*", ms=23, color="black", mew=0),
    Line2D([], [], ls="none", marker="^", ms=19, color="black", mew=0),
    Line2D([], [], ls="none", marker="s", ms=17, mfc="none", mec="black", mew=1.5),
]
labels = ["RPPs", "Magnetars", "RRaTs", "XINSs", "CCOs"]
leg = ax.legend(handles, labels, loc="upper left",
                bbox_to_anchor=(901 / 1263, 1 - 817 / 940, 226 / 1263, 252 / 940),
                bbox_transform=fig.transFigure, mode="expand", borderaxespad=0, fontsize=20.5,
                frameon=True, fancybox=False, framealpha=1, edgecolor="black",
                handlelength=0.4, handletextpad=0.6, borderpad=0.8, labelspacing=0.70)
leg.get_frame().set_linewidth(1.6)
leg.set_zorder(10)

fig.text(1247 / 1263, 1 - 930 / 940, "Turolla et al. 2015", fontsize=27,
         family=["Lato", "DejaVu Sans"], ha="right", va="baseline", color="black")

fig.patches.append(Rectangle((17 / 1263, -0.1), 1.2, 1.1 - 3.3 / 940,
                             transform=fig.transFigure, fill=False, edgecolor="#3aa6dc",
                             lw=1.8, zorder=20))

fig.savefig("out.png", dpi=100)
